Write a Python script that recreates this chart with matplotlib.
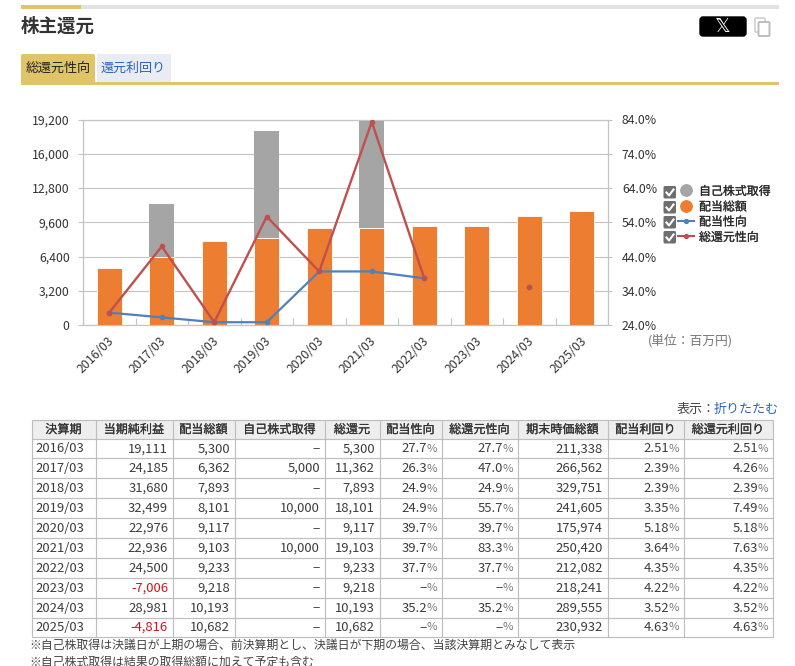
import numpy as np
import matplotlib
matplotlib.use("Agg")
import matplotlib.pyplot as plt
import matplotlib.patheffects as pe
from matplotlib.patches import Rectangle, FancyBboxPatch
from matplotlib.transforms import ScaledTranslation

plt.rcParams["font.family"] = ["Noto Sans CJK JP", "DejaVu Sans"]

# DATA
years = ["2016/03", "2017/03", "2018/03", "2019/03", "2020/03",
         "2021/03", "2022/03", "2023/03", "2024/03", "2025/03"]
net_income = [19111, 24185, 31680, 32499, 22976, 22936, 24500, -7006, 28981, -4816]
dividends = [5300, 6362, 7893, 8101, 9117, 9103, 9233, 9218, 10193, 10682]
buybacks = [None, 5000, None, 10000, None, 10000, None, None, None, None]
total_return = [5300, 11362, 7893, 18101, 9117, 19103, 9233, 9218, 10193, 10682]
payout_ratio = [27.7, 26.3, 24.9, 24.9, 39.7, 39.7, 37.7, None, 35.2, None]
total_payout = [27.7, 47.0, 24.9, 55.7, 39.7, 83.3, 37.7, None, 35.2, None]
market_cap = [211338, 266562, 329751, 241605, 175974, 250420, 212082, 218241, 289555, 230932]
div_yield = [2.51, 2.39, 2.39, 3.35, 5.18, 3.64, 4.35, 4.22, 3.52, 4.63]
total_yield = [2.51, 4.26, 2.39, 7.49, 5.18, 7.63, 4.35, 4.22, 3.52, 4.63]

left_ticks = [0, 3200, 6400, 9600, 12800, 16000, 19200]
right_ticks = [24, 34, 44, 54, 64, 74, 84]
table_headers = ["決算期", "当期純利益", "配当総額", "自己株式取得", "総還元", "配当性向",
                 "総還元性向", "期末時価総額", "配当利回り", "総還元利回り"]
legend_labels = ["自己株式取得", "配当総額", "配当性向", "総還元性向"]

# COLOURS
GOLD = "#DFC468"
ORANGE = "#ED7D31"
GRAY_BAR = "#A5A5A5"
RED_LINE = "#C0504D"
BLUE_LINE = "#4F81BD"
GRID = "#C4C4C4"
TEXT = "#333333"
LINK = "#2B62BE"

fig = plt.figure(figsize=(7.95, 6.66), dpi=100, facecolor="white")

# page layer in pixel coordinates
page = fig.add_axes([0, 0, 1, 1])
page.set_xlim(0, 795)
page.set_ylim(666, 0)
page.axis("off")

# fake a medium weight, the font only comes in regular and bold here
semi_bold = [pe.withStroke(linewidth=0.15, foreground=TEXT)]

# top of the page
page.add_patch(Rectangle((81, 5), 698, 3.5, color="#E2E2E2", lw=0))
page.add_patch(Rectangle((21, 5), 60, 3.5, color=GOLD, lw=0))
page.text(21, 26.5, "株主還元", fontsize=13.3, fontweight="bold", color=TEXT, va="center")

page.add_patch(FancyBboxPatch((700, 17), 46, 19, boxstyle="round,pad=0,rounding_size=3",
                              fc="black", ec="black", lw=1))
page.text(723, 27, "𝕏", fontsize=14, color="white", ha="center", va="center",
          family="DejaVu Sans")
page.add_patch(FancyBboxPatch((755, 18), 10, 14, boxstyle="round,pad=0,rounding_size=1",
                              fc="white", ec="#D0D0D0", lw=1.2))
page.add_patch(FancyBboxPatch((758.5, 22), 11, 14, boxstyle="round,pad=0,rounding_size=1",
                              fc="white", ec="#BDBDBD", lw=1.4))

# tabs
page.add_patch(FancyBboxPatch((21, 54), 74, 30, boxstyle="round,pad=0,rounding_size=2",
                              fc=GOLD, ec="none"))
page.add_patch(Rectangle((97, 54), 74, 28, color="#E9ECF3", lw=0))
page.add_patch(Rectangle((21, 82), 758, 3, color=GOLD, lw=0))
page.text(58, 68.5, "総還元性向", fontsize=9.4, color="#222222", ha="center", va="center")
page.text(133, 68.5, "還元利回り", fontsize=9.4, color=LINK, ha="center", va="center")

# CHART
ax = fig.add_axes([83 / 795, 1 - 325.3 / 666, 525 / 795, 205.8 / 666])
ax.patch.set_alpha(0)
x = np.arange(len(years))
buyback_values = [0 if v is None else v for v in buybacks]
payout_values = [np.nan if v is None else v for v in payout_ratio]
total_payout_values = [np.nan if v is None else v for v in total_payout]

ax.bar(x, buyback_values, bottom=dividends, width=0.476, color=GRAY_BAR, zorder=2)
ax.bar(x, dividends, width=0.476, color=ORANGE, edgecolor="white", linewidth=0.6, zorder=3)
ax.set_xlim(-0.5, 9.5)
ax.set_ylim(left_ticks[0], left_ticks[-1])
ax.set_yticks(left_ticks)
ax.set_yticklabels([f"{v:,}" for v in left_ticks])
ax.set_xticks(x)
ax.set_xticklabels(years, rotation=45, ha="right", rotation_mode="anchor")
ax.set_xticks(np.arange(-0.5, 10), minor=True)
ax.tick_params(axis="x", which="major", length=0, pad=6.5, labelsize=8.8, labelcolor=TEXT)
ax.tick_params(axis="x", which="minor", direction="in", length=5, color=GRID, width=0.8)
ax.tick_params(axis="y", length=3.6, color=GRID, width=0.8, pad=6, labelsize=8.8, labelcolor=TEXT)
ax.grid(axis="y", color=GRID, linewidth=0.8, zorder=1)
ax.set_axisbelow(True)
for spine in ax.spines.values():
    spine.set_color(GRID)
    spine.set_linewidth(0.8)
for label in ax.get_xticklabels():
    label.set_transform(label.get_transform() + ScaledTranslation(-2 / 100, 0, fig.dpi_scale_trans))

ax2 = ax.twinx()
ax2.patch.set_alpha(0)
ax2.plot(x, payout_values, color=BLUE_LINE, linewidth=1.6, marker="o", markersize=3, zorder=4)
ax2.plot(x, total_payout_values, color=RED_LINE, linewidth=1.7, marker="o", markersize=3, zorder=5)
ax2.set_ylim(right_ticks[0], right_ticks[-1])
ax2.set_yticks(right_ticks)
ax2.set_yticklabels([f"{v:.1f}%" for v in right_ticks])
ax2.tick_params(axis="y", length=3, color=GRID, width=0.8, pad=7, labelsize=8.8, labelcolor=TEXT)
for spine in ax2.spines.values():
    spine.set_color(GRID)
    spine.set_linewidth(0.8)

page.text(690.5, 341, "(単位：百万円)", fontsize=9.2, color="#777777", ha="center", va="center")

# LEGEND
legend_box_y = [192.5, 207.5, 222.5, 237.5]
legend_text_y = [191.5, 207, 222, 237.5]
for i, label in enumerate(legend_labels):
    by = legend_box_y[i]
    page.add_patch(FancyBboxPatch((663.5, by - 6.5), 12.5, 12.5, boxstyle="round,pad=0,rounding_size=1.5",
                                  fc="#6E6E6E", ec="none"))
    page.plot([666.5, 669, 673.5], [by, by + 3, by - 3], color="white", linewidth=1.5)
    page.text(699, legend_text_y[i], label, fontsize=8.6, color="#2A2A2A", va="center",
              path_effects=semi_bold)
page.plot([686], [190], marker="o", markersize=8.2, color=GRAY_BAR, linestyle="none")
page.plot([686], [205.5], marker="o", markersize=8.2, color=ORANGE, linestyle="none")
page.plot([678, 694], [220.5, 220.5], color=BLUE_LINE, linewidth=1.5, zorder=3)
page.plot([686], [220.5], marker="o", markersize=2.8, color=BLUE_LINE)
page.plot([678, 694], [236, 236], color=RED_LINE, linewidth=1.5, zorder=3)
page.plot([686], [236], marker="o", markersize=2.8, color=RED_LINE)

# TABLE
page.text(715.5, 409, "表示：", fontsize=9.4, color="#444444", ha="right", va="center")
page.text(779, 409, "折りたたむ", fontsize=9.4, color=LINK, ha="right", va="center")

col_edges = [31.5, 95.5, 172.5, 234.5, 324.5, 379.5, 441.5, 517.5, 607.5, 683.5, 772.5]
row_edges = [419.5, 438.5, 458, 478, 498, 518, 537.5, 557.5, 577.5, 597.5, 617.5, 636.5]

page.add_patch(Rectangle((col_edges[0], row_edges[0]), col_edges[-1] - col_edges[0],
                         row_edges[1] - row_edges[0], color="#EEEEEE", lw=0))
page.hlines(row_edges, col_edges[0], col_edges[-1], color="#BEBEBE", linewidth=0.85)
page.vlines(col_edges, row_edges[0], row_edges[-1], color="#BEBEBE", linewidth=0.85)

for c, header in enumerate(table_headers):
    page.text((col_edges[c] + col_edges[c + 1]) / 2, 429.7, header, fontsize=8.7,
              color=TEXT, ha="center", va="center", path_effects=semi_bold)


def cell_number(col, row_y, value, color="#3C3C3C"):
    page.text(col_edges[col + 1] - 4.5, row_y, value, fontsize=9.4, color=color, ha="right", va="center")


def cell_percent(col, row_y, value):
    page.text(col_edges[col + 1] - 4, row_y, "%", fontsize=8.2, color="#777777", ha="right", va="center")
    page.text(col_edges[col + 1] - 14.5, row_y, value, fontsize=9.4, color="#3C3C3C", ha="right", va="center")


def dash_or(value, fmt):
    return "−" if value is None else format(value, fmt)


for r, year in enumerate(years):
    y = (row_edges[r + 1] + row_edges[r + 2]) / 2 + 0.5
    page.text(col_edges[0] + 3.5, y, year, fontsize=9.4, color="#3C3C3C", va="center")
    cell_number(1, y, f"{net_income[r]:,}", "#D0121B" if net_income[r] < 0 else "#3C3C3C")
    cell_number(2, y, f"{dividends[r]:,}")
    cell_number(3, y, dash_or(buybacks[r], ","))
    cell_number(4, y, f"{total_return[r]:,}")
    cell_percent(5, y, dash_or(payout_ratio[r], ".1f"))
    cell_percent(6, y, dash_or(total_payout[r], ".1f"))
    cell_number(7, y, f"{market_cap[r]:,}")
    cell_percent(8, y, f"{div_yield[r]:.2f}")
    cell_percent(9, y, f"{total_yield[r]:.2f}")

page.text(29, 645.5, "※自己株取得は決議日が上期の場合、前決算期とし、決議日が下期の場合、当該決算期とみなして表示",
          fontsize=8.6, color="#444444", va="center")
page.text(29, 662, "※自己株式取得は結果の取得総額に加えて予定も含む",
          fontsize=8.6, color="#444444", va="center")

fig.savefig("out.png", dpi=100)
